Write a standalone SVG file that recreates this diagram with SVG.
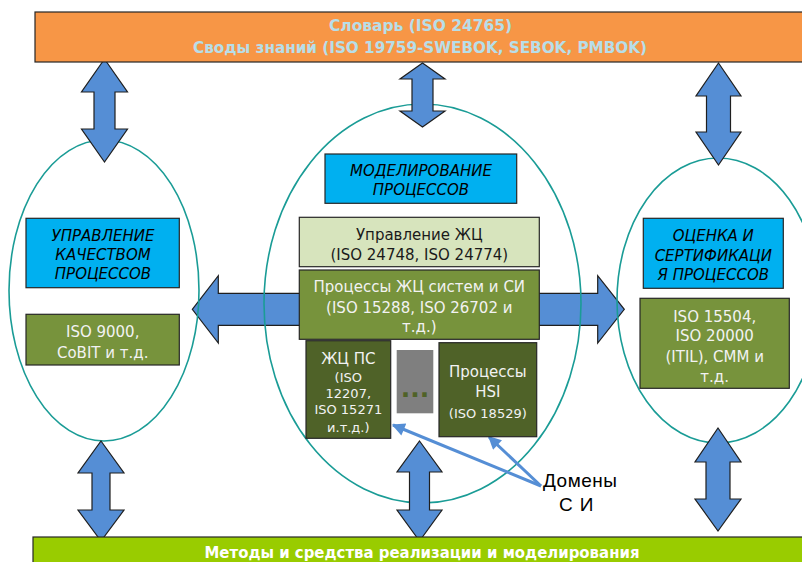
<svg xmlns="http://www.w3.org/2000/svg" width="802" height="562" viewBox="0 0 802 562">
<defs>
<style>
.ell{fill:none;stroke:#1A9C96;stroke-width:1.6}
.arr{fill:#558ED5;stroke:#1F1F1F;stroke-width:1.2;stroke-linejoin:miter}
.box{stroke:#262626;stroke-width:1.2}
.blue{fill:#00B0F0}
.grn{fill:#77933C}
.dgrn{fill:#4F6228}
.lgrn{fill:#D7E4BD}
.t{font-family:"DejaVu Sans","Liberation Sans",sans-serif;font-size:15px;text-anchor:middle}
.ti{font-family:"DejaVu Sans","Liberation Sans",sans-serif;font-size:15px;font-style:italic;text-anchor:middle;fill:#000}
.w{fill:#F2F2F2}
.s{font-size:13px}
.bar{font-family:"DejaVu Sans","Liberation Sans",sans-serif;font-size:15px;font-weight:bold;text-anchor:middle}
.dom{font-family:"Liberation Sans",Arial,sans-serif;font-size:19px;fill:#000}
.conn{stroke:#558ED5;stroke-width:3;fill:none}
</style>
<marker id="ah" viewBox="0 0 10 10" refX="9" refY="5" markerWidth="15" markerHeight="13" markerUnits="userSpaceOnUse" orient="auto">
<path d="M0,0 L10,5 L0,10 Z" fill="#558ED5"/>
</marker>
</defs>

<g id="horizontal-arrow">
<path class="arr" d="M192.3,309.3 L218.3,275.7 L218.3,293.3 L597.7,293.3 L597.7,275.7 L624.3,309.3 L597.7,343 L597.7,325.3 L218.3,325.3 L218.3,343 Z"/>
</g>

<g id="ellipses">
<ellipse id="ellipse-left" class="ell" cx="104" cy="290.5" rx="95" ry="150.5"/>
<ellipse id="ellipse-center" class="ell" cx="422.5" cy="303.5" rx="158.5" ry="199.5"/>
<ellipse id="ellipse-right" class="ell" cx="718" cy="300.5" rx="101" ry="142.5"/>
</g>

<g id="connectors">
<path class="arr" d="M104.5,59 L127.5,92 L115,92 L115,129 L127.5,129 L104.5,162 L81.5,129 L94,129 L94,92 L81.5,92 Z"/>
<path class="arr" d="M422.5,63 L445,79 L433,79 L433,111 L445,111 L422.5,127 L400,111 L412,111 L412,79 L400,79 Z"/>
<path class="arr" d="M718.5,63 L741,96 L730.5,96 L730.5,132 L741,132 L718.5,165 L696,132 L706.5,132 L706.5,96 L696,96 Z"/>
<path class="arr" d="M101,441 L124,473 L110,473 L110,510 L124,510 L101,541 L78,510 L92,510 L92,473 L78,473 Z"/>
<path class="arr" d="M419.5,441 L442,472 L429.5,472 L429.5,510 L442,510 L419.5,541 L397,510 L409.5,510 L409.5,472 L397,472 Z"/>
<path class="arr" d="M718,428 L741,462 L730,462 L730,499 L741,499 L718,531 L695,499 L706,499 L706,462 L695,462 Z"/>
<line class="conn" x1="541" y1="486" x2="393" y2="425" marker-end="url(#ah)"/>
<line class="conn" x1="541" y1="486" x2="489" y2="437" marker-end="url(#ah)"/>
</g>

<g id="top-bar">
<rect class="box" x="35" y="12" width="780" height="50" fill="#F79646"/>
<text class="bar" x="420.5" y="31" fill="#B7DEE8" textLength="183" lengthAdjust="spacingAndGlyphs">Словарь (ISO 24765)</text>
<text class="bar" x="420" y="53" fill="#B7DEE8" textLength="454" lengthAdjust="spacingAndGlyphs">Своды знаний (ISO 19759-SWEBOK, SEBOK, PMBOK)</text>
</g>

<g id="bottom-bar">
<rect class="box" x="33" y="537" width="790" height="40" fill="#99CC00"/>
<text class="bar" x="422" y="558" fill="#FFFFFF" textLength="435" lengthAdjust="spacingAndGlyphs">Методы и средства реализации и моделирования</text>
</g>

<g id="quality-mgmt">
<rect class="box blue" x="26" y="218.3" width="153.3" height="69.4"/>
<text class="ti" x="103" y="241">УПРАВЛЕНИЕ</text>
<text class="ti" x="103" y="260">КАЧЕСТВОМ</text>
<text class="ti" x="103" y="279">ПРОЦЕССОВ</text>
</g>

<g id="iso9000">
<rect class="box grn" x="26" y="314.3" width="153.3" height="50.7"/>
<text class="t w" x="102.7" y="337">ISO 9000,</text>
<text class="t w" x="102.7" y="357.5">CoBIT и т.д.</text>
</g>

<g id="process-modeling">
<rect class="box blue" x="325" y="154" width="191.7" height="49.3"/>
<text class="ti" x="421" y="176">МОДЕЛИРОВАНИЕ</text>
<text class="ti" x="421" y="195">ПРОЦЕССОВ</text>
</g>

<g id="lc-management">
<rect class="box lgrn" x="299.3" y="217.3" width="240" height="49.4"/>
<text class="t" x="419.3" y="240" fill="#1A1A1A">Управление ЖЦ</text>
<text class="t" x="419.3" y="259.5" fill="#1A1A1A">(ISO 24748, ISO 24774)</text>
</g>

<g id="lc-processes">
<rect class="box grn" x="299.3" y="270" width="240" height="69.3"/>
<text class="t w" x="419.3" y="292">Процессы ЖЦ систем и СИ</text>
<text class="t w" x="419.3" y="312.5">(ISO 15288, ISO 26702 и</text>
<text class="t w" x="419.3" y="332">т.д.)</text>
</g>

<g id="sw-lc">
<rect class="box dgrn" x="306" y="340.7" width="84.7" height="97.6"/>
<text class="t w" x="348.3" y="363.5">ЖЦ ПС</text>
<text class="t w s" x="348.3" y="382">(ISO</text>
<text class="t w s" x="348.3" y="398">12207,</text>
<text class="t w s" x="348.3" y="414">ISO 15271</text>
<text class="t w s" x="348.3" y="432">и.т.д.)</text>
</g>

<g id="ellipsis">
<rect x="396.7" y="350" width="36.6" height="63.3" fill="#7F7F7F"/>
<text x="415" y="397" font-family="DejaVu Sans,sans-serif" font-size="25" font-weight="bold" fill="#4F6228" text-anchor="middle">...</text>
</g>

<g id="hsi">
<rect class="box dgrn" x="439" y="342.7" width="97.7" height="94"/>
<text class="t w" x="487.8" y="377">Процессы</text>
<text class="t w" x="487.8" y="397">HSI</text>
<text class="t w s" x="487.8" y="417.5">(ISO 18529)</text>
</g>

<g id="assessment">
<rect class="box blue" x="643.3" y="218.3" width="140" height="70"/>
<text class="ti" x="713.3" y="241">ОЦЕНКА И</text>
<text class="ti" x="713.3" y="261">СЕРТИФИКАЦИ</text>
<text class="ti" x="713.3" y="280">Я ПРОЦЕССОВ</text>
</g>

<g id="iso15504">
<rect class="box grn" x="640" y="298.3" width="149.3" height="90"/>
<text class="t w" x="714.7" y="322">ISO 15504,</text>
<text class="t w" x="714.7" y="341">ISO 20000</text>
<text class="t w" x="714.7" y="362">(ITIL), CMM и</text>
<text class="t w" x="714.7" y="382">т.д.</text>
</g>

<g id="domains-label">
<text class="dom" x="543" y="487" letter-spacing="0.5">Домены</text>
<text class="dom" x="559" y="511" letter-spacing="7">СИ</text>
</g>
</svg>
